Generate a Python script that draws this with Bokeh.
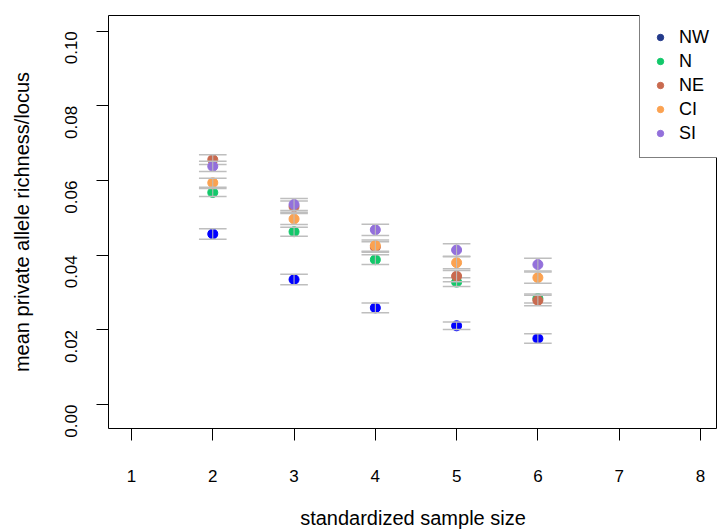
import math
from bokeh.plotting import figure
from bokeh.models import Range1d, FixedTicker, PrintfTickFormatter, Legend, LegendItem, ColumnDataSource
from bokeh.embed import file_html
from bokeh.resources import INLINE

# ---- data ----
sample_size = [2, 3, 4, 5, 6]
series_names = ["NW", "N", "NE", "CI", "SI"]
mean_NW = [0.0457, 0.0335, 0.0259, 0.0211, 0.0177]
mean_N = [0.0568, 0.0463, 0.0388, 0.0328, 0.0284]
mean_NE = [0.0656, 0.0530, 0.0422, 0.0344, 0.0279]
mean_CI = [0.0594, 0.0497, 0.0426, 0.0380, 0.0340]
mean_SI = [0.0638, 0.0536, 0.0468, 0.0414, 0.0375]
se_NW = [0.0014, 0.0014, 0.0013, 0.0010, 0.0013]
se_N = [0.0011, 0.0012, 0.0013, 0.0012, 0.0012]
se_NE = [0.0013, 0.0015, 0.0014, 0.0015, 0.0014]
se_CI = [0.0012, 0.0015, 0.0015, 0.0016, 0.0015]
se_SI = [0.0014, 0.0016, 0.0015, 0.0017, 0.0017]
x_ticks = [1, 2, 3, 4, 5, 6, 7, 8]
y_ticks = [0.0, 0.02, 0.04, 0.06, 0.08, 0.10]

means = [mean_NW, mean_N, mean_NE, mean_CI, mean_SI]
ses = [se_NW, se_N, se_NE, se_CI, se_SI]
point_colors = ["#0000FF", "#12C86A", "#C96A4F", "#FBA251", "#9370DB"]
legend_colors = ["#233A8B", "#12C86A", "#C96A4F", "#FBA251", "#9370DB"]

FONT = "Liberation Sans"

p = figure(width=717, height=531, output_backend="svg", toolbar_location=None,
           x_range=Range1d(0.717, 8.21), y_range=Range1d(-0.0064, 0.1042),
           min_border_left=108, min_border_right=0, min_border_top=15, min_border_bottom=101)
p.xgrid.visible = False
p.ygrid.visible = False
p.outline_line_color = "black"
p.outline_line_width = 1
p.background_fill_color = "white"
p.border_fill_color = "white"

cap = 0.17
err_color = "#BEBEBE"
for m, s, c in zip(means, ses, point_colors):
    lo = [a - b for a, b in zip(m, s)]
    hi = [a + b for a, b in zip(m, s)]
    src = ColumnDataSource(dict(
        x=sample_size, y=m, lo=lo, hi=hi,
        xl=[v - cap for v in sample_size], xr=[v + cap for v in sample_size]))
    p.scatter("x", "y", source=src, size=10, fill_color=c, line_color=c)
    p.segment("x", "lo", "x", "hi", source=src, line_color=err_color, line_width=1)
    p.segment("xl", "lo", "xr", "lo", source=src, line_color=err_color, line_width=1.5)
    p.segment("xl", "hi", "xr", "hi", source=src, line_color=err_color, line_width=1.5)

# legend-only renderers (one off-screen point each, colours as in the legend)
items = []
for name, c in zip(series_names, legend_colors):
    r = p.scatter(x=[float("nan")], y=[float("nan")], size=9, fill_color=c, line_color=c)
    items.append(LegendItem(label=name, renderers=[r]))

legend = Legend(items=items, location=(531, 270), border_line_color="black",
                border_line_width=1, padding=12, spacing=0, margin=0,
                glyph_width=16, glyph_height=24, label_height=24, label_width=45,
                label_standoff=11, label_text_font=FONT, label_text_font_size="18px",
                label_text_color="black", background_fill_alpha=1.0)
p.add_layout(legend, "center")

for ax in (p.xaxis[0], p.yaxis[0]):
    ax.axis_line_color = None
    ax.major_tick_in = 0
    ax.major_tick_out = 12
    ax.minor_tick_in = 0
    ax.minor_tick_out = 0
    ax.major_tick_line_color = "black"
    ax.major_tick_line_width = 1
    ax.major_label_text_font = FONT
    ax.major_label_text_font_size = "17px"
    ax.major_label_text_color = "black"
    ax.axis_label_text_font = FONT
    ax.axis_label_text_font_size = "20px"
    ax.axis_label_text_font_style = "normal"
    ax.axis_label_text_color = "black"

p.xaxis[0].ticker = FixedTicker(ticks=x_ticks)
p.xaxis[0].axis_label = "standardized sample size"
p.xaxis[0].major_label_standoff = 29
p.xaxis[0].axis_label_standoff = 22

p.yaxis[0].ticker = FixedTicker(ticks=y_ticks)
p.yaxis[0].formatter = PrintfTickFormatter(format="%.2f")
p.yaxis[0].axis_label = "mean private allele richness/locus"
p.yaxis[0].major_label_orientation = math.pi / 2
p.yaxis[0].major_label_standoff = 25
p.yaxis[0].axis_label_standoff = 24

open("out.html", "w").write(file_html(p, INLINE))
